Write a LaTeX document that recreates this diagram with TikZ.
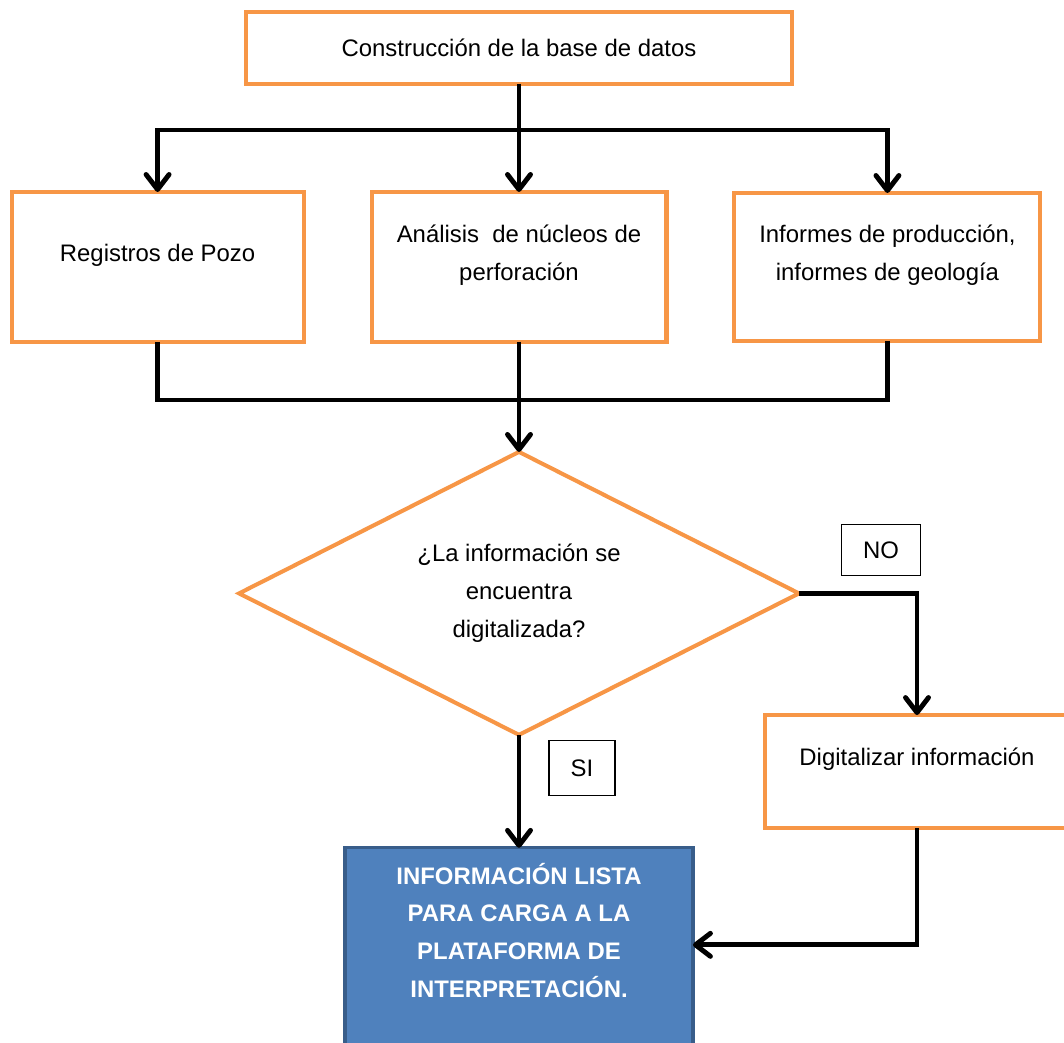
\documentclass[tikz,border=0pt]{standalone}
\usepackage{fontspec}
\setmainfont{Liberation Sans}
\usepackage{tikz}
\usetikzlibrary{shapes.geometric, arrows.meta, positioning, calc}
\definecolor{naranja}{HTML}{F79646}
\definecolor{azul}{HTML}{4F81BD}
\definecolor{azulborde}{HTML}{385D8A}
\tikzstyle{arrow} = [line width=2.8pt, -{Straight Barb[length=0.3cm, width=0.46cm, round]}]
\tikzstyle{line} = [line width=2.8pt]
\tikzstyle{process} = [rectangle, minimum width=5.9cm, minimum height=3cm, text centered, align=center, draw=naranja, line width=2.3pt, outer sep=0pt, fill=white, font=\fontsize{13.6}{21.6}\selectfont]
\tikzstyle{raised} = [text depth=0.58cm]
\tikzstyle{decision} = [diamond, aspect=2, minimum width=11.2cm, minimum height=5.66cm, inner sep=0pt, outer sep=0pt, text centered, align=center, draw=naranja, line width=2.3pt, font=\fontsize{13.6}{21.6}\selectfont]
\tikzstyle{etiqueta} = [rectangle, draw=black, line width=0.6pt, font=\fontsize{13.6}{16}\selectfont]

\begin{document}
\begin{tikzpicture}[x=0.02cm, y=-0.02cm]
    \useasboundingbox (0,0) rectangle (1064,1043);

    % Base de datos
    \node (top) [process, minimum width=10.92cm, minimum height=1.44cm] at (519,48) {Construcción de la base de datos};

    % Fuentes
    \node (ana) [process, raised, below=2.16cm of top] {Análisis \ de núcleos de\\perforación};
    \node (reg) [process, raised, minimum width=5.84cm, left=1.36cm of ana] {Registros de Pozo};
    \node (inf) [process, raised, minimum width=6.12cm, minimum height=2.96cm, right=1.36cm of ana] {Informes de producción,\\informes de geología};

    % Decision
    \node (dec) [decision, below=2.2cm of ana] {¿La información se\\encuentra\\digitalizada?};
    \node (dig) [process, raised, minimum width=6.08cm, minimum height=2.26cm] at (917,771.5) {Digitalizar información};
    \node (fin) [rectangle, below=2.26cm of dec, minimum width=6.96cm, inner ysep=0.3cm, outer sep=0pt, text depth=1.5cm, align=center, draw=azulborde, fill=azul, line width=1.8pt, text=white, font=\bfseries\fontsize{13.6}{21.6}\selectfont] {INFORMACIÓN LISTA\\PARA CARGA A LA\\PLATAFORMA DE\\INTERPRETACIÓN.};

    % Etiquetas
    \node (no) [etiqueta, minimum width=1.58cm, minimum height=1.02cm] at (881,550) {NO};
    \node (si) [etiqueta, minimum width=1.32cm, minimum height=1.1cm] at (582,768) {SI};

    % Flechas
    \coordinate (split) at (519,130);
    \coordinate (join) at (519,400);
    \draw [line] (top.south) -- (split);
    \draw [arrow] (split) -- (ana.north);
    \draw [arrow] (split) -| (reg.north);
    \draw [arrow] (split) -| (inf.north);
    \draw [line] (reg.south) |- (join);
    \draw [line] (inf.south) |- (join);
    \draw [arrow] (ana.south) -- (dec.north);
    \draw [arrow] (dec.east) -| (dig.north);
    \draw [arrow] (dec.south) -- (fin.north);
    \draw [arrow] (dig.south) |- ($(fin.north east)+(0,97)$);
\end{tikzpicture}
\end{document}
